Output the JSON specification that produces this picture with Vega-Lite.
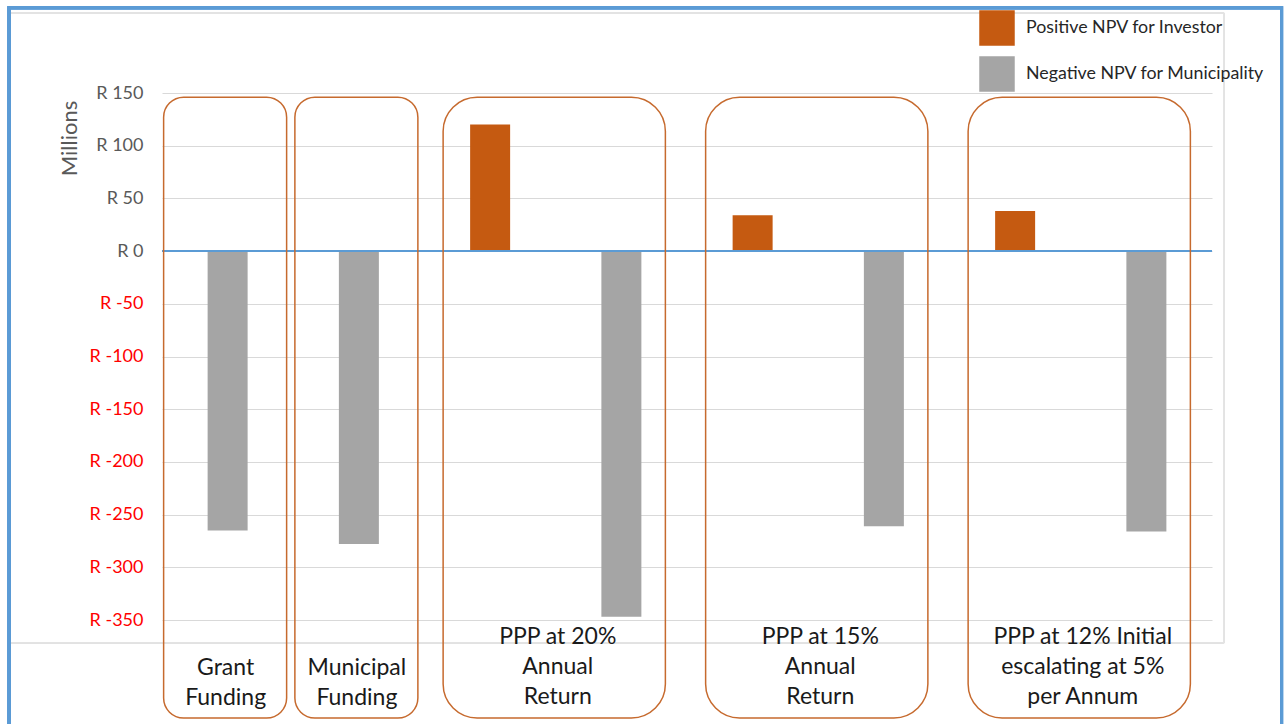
{
  "$schema": "https://vega.github.io/schema/vega-lite/v6.json",
  "width": 1050,
  "height": 527,
  "autosize": "none",
  "padding": {"left": 162, "top": 93, "right": 75, "bottom": 104},
  "background": "white",
  "config": {"view": {"stroke": null}, "font": "Lato"},
  "data": {"values": [
    {"slot": 1, "group": "Grant\nFunding", "series": "Negative NPV for Municipality", "value": -265},
    {"slot": 2, "group": "Municipal\nFunding", "series": "Negative NPV for Municipality", "value": -278},
    {"slot": 3, "group": "PPP at 20%\nAnnual\nReturn", "series": "Positive NPV for Investor", "value": 120},
    {"slot": 4, "group": "PPP at 20%\nAnnual\nReturn", "series": "Negative NPV for Municipality", "value": -347},
    {"slot": 5, "group": "PPP at 15%\nAnnual\nReturn", "series": "Positive NPV for Investor", "value": 34},
    {"slot": 6, "group": "PPP at 15%\nAnnual\nReturn", "series": "Negative NPV for Municipality", "value": -261},
    {"slot": 7, "group": "PPP at 12% Initial\nescalating at 5%\nper Annum", "series": "Positive NPV for Investor", "value": 38},
    {"slot": 8, "group": "PPP at 12% Initial\nescalating at 5%\nper Annum", "series": "Negative NPV for Municipality", "value": -266}
  ]},
  "layer": [
    {
      "mark": {"type": "bar", "size": 40},
      "encoding": {
        "x": {
          "field": "slot", "type": "quantitative",
          "scale": {"domain": [0.5, 8.5], "nice": false, "zero": false, "padding": 0},
          "axis": null
        },
        "y": {
          "field": "value", "type": "quantitative",
          "scale": {"domain": [-350, 150], "nice": false},
          "axis": {
            "title": "Millions",
            "values": [-350, -300, -250, -200, -150, -100, -50, 0, 50, 100, 150],
            "labelExpr": "'R ' + datum.value",
            "labelFont": "Lato",
            "labelFontSize": 18,
            "labelColor": {"condition": {"test": "datum.value < 0", "value": "#ff0000"}, "value": "#595959"},
            "labelPadding": 19,
            "domain": false,
            "ticks": false,
            "grid": true,
            "gridColor": "#d9d9d9",
            "titleFont": "Lato",
            "titleFontSize": 22,
            "titleFontWeight": "normal",
            "titleColor": "#595959",
            "titleX": -81,
            "titleY": 45,
            "titleAngle": -90,
            "titleAlign": "center",
            "titleBaseline": "bottom"
          }
        },
        "color": {
          "field": "series", "type": "nominal",
          "scale": {"domain": ["Positive NPV for Investor", "Negative NPV for Municipality"], "range": ["#c55a11", "#a5a5a5"]},
          "legend": {
            "title": null,
            "orient": "none",
            "legendX": 817,
            "legendY": -83,
            "symbolType": "square",
            "symbolSize": 1260,
            "symbolStrokeWidth": 0,
            "labelFont": "Lato",
            "labelFontSize": 17.8,
            "labelLimit": 400,
            "labelColor": "#262626",
            "labelOffset": 11,
            "rowPadding": 10
          }
        }
      }
    },
    {
      "mark": {"type": "rule", "color": "#5b9bd5", "strokeWidth": 1.5},
      "encoding": {"y": {"datum": 0, "type": "quantitative"}}
    },
    {
      "mark": {"type": "rect", "fillOpacity": 0, "stroke": "#e3e3e3", "strokeWidth": 1},
      "encoding": {
        "x": {"datum": -0.66, "type": "quantitative"},
        "x2": {"datum": 8.59},
        "y": {"datum": 226, "type": "quantitative"},
        "y2": {"datum": -372}
      }
    },
    {
      "mark": {"type": "rect", "fillOpacity": 0, "stroke": "#5b9bd5", "strokeWidth": 3},
      "encoding": {
        "x": {"datum": -0.665, "type": "quantitative"},
        "x2": {"datum": 9.03},
        "y": {"datum": 231, "type": "quantitative"},
        "y2": {"datum": -460}
      }
    },
    {
      "transform": [
        {"aggregate": [{"op": "min", "field": "slot", "as": "first"}, {"op": "max", "field": "slot", "as": "last"}, {"op": "mean", "field": "slot", "as": "mid"}, {"op": "count", "as": "n"}], "groupby": ["group"]},
        {"filter": "datum.n == 1"}
      ],
      "layer": [
        {
          "mark": {"type": "rect", "fillOpacity": 0, "stroke": "#c66a2e", "strokeWidth": 1.5, "cornerRadius": 20, "xOffset": -64, "x2Offset": 59},
          "encoding": {
            "x": {"field": "first", "type": "quantitative"},
            "x2": {"field": "last"},
            "y": {"datum": 146, "type": "quantitative"},
            "y2": {"datum": -443}
          }
        },
        {
          "mark": {"type": "text", "font": "Lato", "fontSize": 23, "color": "#1a1a1a", "lineBreak": "\n", "lineHeight": 30, "align": "center", "baseline": "middle", "dx": -2},
          "encoding": {
            "x": {"field": "mid", "type": "quantitative"},
            "y": {"datum": -395.5, "type": "quantitative"},
            "text": {"field": "group", "type": "nominal"}
          }
        }
      ]
    },
    {
      "transform": [
        {"aggregate": [{"op": "min", "field": "slot", "as": "first"}, {"op": "max", "field": "slot", "as": "last"}, {"op": "mean", "field": "slot", "as": "mid"}, {"op": "count", "as": "n"}], "groupby": ["group"]},
        {"filter": "datum.n == 2"}
      ],
      "layer": [
        {
          "mark": {"type": "rect", "fillOpacity": 0, "stroke": "#c66a2e", "strokeWidth": 1.5, "cornerRadius": 34, "xOffset": -47, "x2Offset": 44},
          "encoding": {
            "x": {"field": "first", "type": "quantitative"},
            "x2": {"field": "last"},
            "y": {"datum": 146, "type": "quantitative"},
            "y2": {"datum": -443}
          }
        },
        {
          "mark": {"type": "text", "font": "Lato", "fontSize": 23, "color": "#1a1a1a", "lineBreak": "\n", "lineHeight": 30, "align": "center", "baseline": "middle", "dx": 2},
          "encoding": {
            "x": {"field": "mid", "type": "quantitative"},
            "y": {"datum": -366, "type": "quantitative"},
            "text": {"field": "group", "type": "nominal"}
          }
        }
      ]
    }
  ]
}
